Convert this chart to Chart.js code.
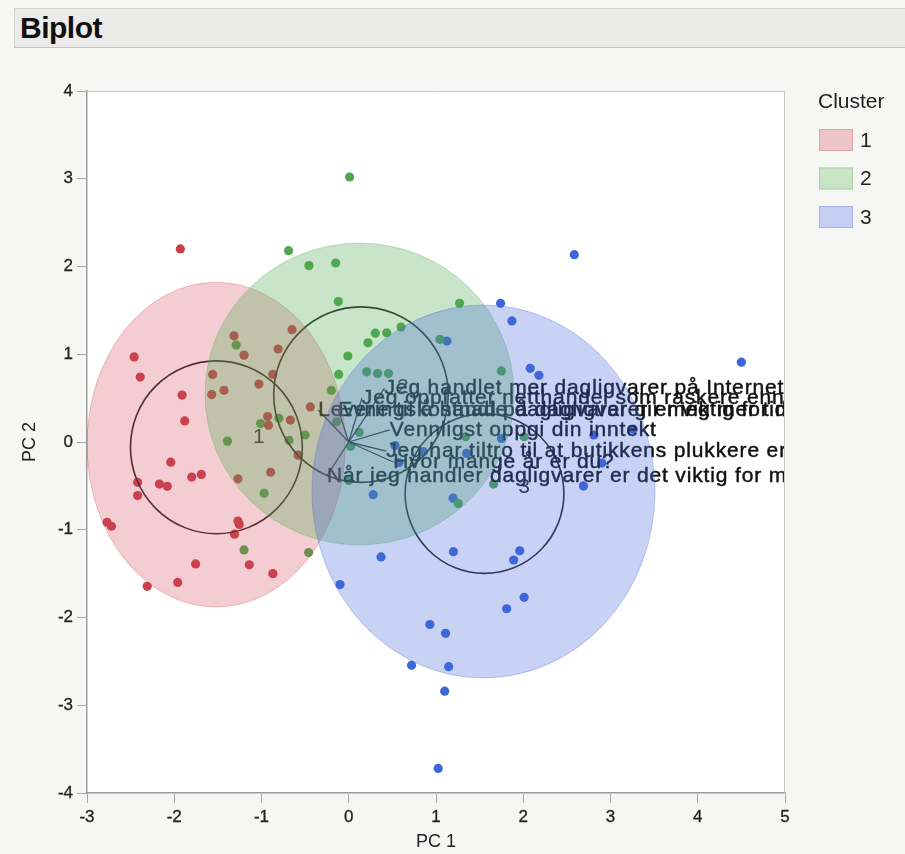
<!DOCTYPE html>
<html>
<head>
<meta charset="utf-8">
<script src="https://cdn.jsdelivr.net/npm/chart.js@4.4.1/dist/chart.umd.min.js"></script>
<style>
  html, body { margin: 0; padding: 0; background: #f6f6f4; }
  #wrap { position: relative; width: 905px; height: 854px; overflow: hidden; }
  #myChart { position: absolute; left: 0; top: 0; }
  #bar {
    position: absolute; left: 14px; top: 8px; width: 891px; height: 40px;
    box-sizing: border-box; padding-left: 5px;
    background: #ebebe9; border-top: 1px solid #d2d2d2; border-left: 1px solid #d2d2d2; border-bottom: 1px solid #c6c6c6;
    font: bold 30px "Liberation Sans", Arial, sans-serif; line-height: 38px; color: #111;
    letter-spacing: -0.5px;
  }
</style>
</head>
<body>
<div id="wrap">
  <canvas id="myChart" width="905" height="854"></canvas>
  <div id="bar">Biplot</div>
</div>
<script>
// ---- data ----
const clusterNames = ['1', '2', '3'];

const cluster1 = [
  [-1.93, 2.20], [-2.46, 0.97], [-2.39, 0.74], [-1.91, 0.535], [-1.88, 0.24],
  [-2.04, -0.23], [-2.42, -0.46], [-2.17, -0.48], [-2.08, -0.505], [-1.80, -0.40],
  [-1.69, -0.37], [-2.42, -0.61], [-2.77, -0.915], [-2.72, -0.96], [-1.27, -0.90],
  [-1.255, -0.94], [-1.31, -1.05], [-1.755, -1.39], [-1.14, -1.40], [-0.87, -1.50],
  [-2.31, -1.645], [-1.96, -1.60], [-1.315, 1.21], [-1.20, 0.99], [-0.81, 1.06],
  [-0.65, 1.28], [-1.56, 0.77], [-1.57, 0.54], [-1.43, 0.59], [-1.03, 0.66],
  [-0.87, 0.77], [-0.44, 0.40], [-0.93, 0.29], [-0.92, 0.19], [-0.67, 0.25],
  [-0.58, -0.15], [-1.27, -0.42], [-0.895, -0.345]
];

const cluster2 = [
  [0.01, 3.02], [-0.69, 2.18], [-0.456, 2.01], [-0.15, 2.04], [-0.12, 1.60],
  [1.27, 1.58], [0.60, 1.31], [0.435, 1.245], [0.305, 1.24], [0.22, 1.13],
  [-0.01, 0.98], [-0.115, 0.77], [-0.20, 0.59], [0.205, 0.80], [0.33, 0.78],
  [0.455, 0.78], [1.045, 1.17], [1.75, 0.81], [-1.29, 1.105], [-1.01, 0.21],
  [-0.80, 0.27], [-1.39, 0.01], [-0.685, 0.02], [-0.50, 0.08], [-0.97, -0.585],
  [-1.20, -1.23], [-0.46, -1.26], [-0.14, 0.23], [0.12, 0.11], [0.02, -0.05],
  [1.255, -0.70], [1.66, -0.48], [0.0, -0.44], [1.34, 0.06], [2.01, 0.06]
];

const cluster3 = [
  [2.585, 2.135], [1.74, 1.58], [1.87, 1.38], [1.125, 1.15], [2.08, 0.84],
  [2.18, 0.76], [4.50, 0.91], [2.81, 0.08], [3.26, 0.145], [1.75, 0.04],
  [2.90, -0.24], [2.69, -0.50], [0.28, -0.60], [1.195, -0.64], [0.37, -1.31],
  [-0.10, -1.625], [1.20, -1.25], [1.96, -1.24], [1.89, -1.345], [2.01, -1.77],
  [1.81, -1.90], [0.93, -2.08], [1.11, -2.18], [0.72, -2.545], [1.145, -2.56],
  [1.10, -2.84], [1.025, -3.72], [1.35, -0.13], [0.53, -0.04], [0.575, -0.235],
  [0.855, -0.11]
];

// cluster circles (centre, radius in axis units)
const circleCx = [-1.517, 0.14, 1.556];
const circleCy = [-0.06, 0.54, -0.587];
const circleR  = [0.985, 1.0, 0.91];
// cluster number labels
const numX = [-1.03, 0.62, 2.01];
const numY = [0.05, 0.63, -0.51];
// shaded density ellipses
const ellCx = [-1.52, 0.123, 1.544];
const ellCy = [-0.03, 0.547, -0.564];
const ellRx = [1.48, 1.77, 1.966];
const ellRy = [1.85, 1.72, 2.125];

// biplot rays (end points) and their labels
const rayLabels = [
  'Jeg handlet mer dagligvarer på Internett etter koronapandemien',
  'Jeg oppfatter netthandel som raskere enn å handle i butikk',
  'Leveringskostnad på dagligvarer er viktig for meg',
  'Evne til å handle dagligvarer gir meg mer tid',
  'Vennligst oppgi din inntekt',
  'Jeg har tiltro til at butikkens plukkere er nøye',
  'Hvor mange år er du?',
  'Når jeg handler dagligvarer er det viktig for meg'
];
const rayX = [0.41, 0.15, -0.35, -0.12, 0.47, 0.43, 0.51, -0.25];
const rayY = [0.615, 0.50, 0.365, 0.365, 0.137, -0.103, -0.228, -0.387];

const xTicks = [-3, -2, -1, 0, 1, 2, 3, 4, 5];
const yTicks = [-4, -3, -2, -1, 0, 1, 2, 3, 4];

// ---- styles ----
const pointColors = ['#c9404a', '#4fa84f', '#3d66d9'];
const ellFill = ['rgba(210,70,85,0.27)', 'rgba(76,170,76,0.30)', 'rgba(70,105,220,0.30)'];
const ellLine = ['rgba(204,61,71,0.3)', 'rgba(76,170,76,0.3)', 'rgba(65,100,225,0.3)'];
const swatchFill = ['#eec4c8', '#c9e4c5', '#c4cef2'];
const swatchLine = ['#dba2a7', '#a9d3a3', '#a3b3ea'];
const FONT = '"Liberation Sans", Helvetica, Arial, sans-serif';

const biplotLayer = {
  id: 'biplotLayer',
  beforeDraw(chart) {
    const { ctx, chartArea: a } = chart;
    ctx.save();
    ctx.fillStyle = '#ffffff';
    ctx.fillRect(a.left, a.top, a.right - a.left, a.bottom - a.top);
    ctx.restore();
  },
  afterDatasetsDraw(chart) {
    const { ctx, chartArea: a, scales: { x, y } } = chart;
    ctx.save();
    ctx.beginPath();
    ctx.rect(a.left, a.top, a.right - a.left, a.bottom - a.top);
    ctx.clip();

    // rays
    const ox = x.getPixelForValue(0), oy = y.getPixelForValue(0);
    ctx.strokeStyle = '#2b2b2b';
    ctx.lineWidth = 1.3;
    rayX.forEach((vx, i) => {
      ctx.beginPath();
      ctx.moveTo(ox, oy);
      ctx.lineTo(x.getPixelForValue(vx), y.getPixelForValue(rayY[i]));
      ctx.stroke();
    });

    // circles
    ctx.strokeStyle = '#262626';
    ctx.lineWidth = 1.6;
    circleCx.forEach((cx, i) => {
      const px = x.getPixelForValue(cx), py = y.getPixelForValue(circleCy[i]);
      const rx = x.getPixelForValue(cx + circleR[i]) - px;
      const ry = py - y.getPixelForValue(circleCy[i] + circleR[i]);
      ctx.beginPath();
      ctx.ellipse(px, py, rx, ry, 0, 0, Math.PI * 2);
      ctx.stroke();
    });

    // ray labels
    ctx.fillStyle = '#111';
    ctx.strokeStyle = '#111';
    ctx.lineWidth = 0.45;
    ctx.textAlign = 'left';
    ctx.textBaseline = 'middle';
    ctx.font = '21px ' + FONT;
    ctx.letterSpacing = '0.85px';
    rayLabels.forEach((t, i) => {
      const tx = x.getPixelForValue(rayX[i]), ty = y.getPixelForValue(rayY[i]);
      ctx.fillText(t, tx, ty);
      ctx.strokeText(t, tx, ty);
    });

    // cluster numbers
    ctx.letterSpacing = '0px';
    ctx.fillStyle = '#2a2a2a';
    ctx.textAlign = 'center';
    ctx.font = '21px ' + FONT;
    clusterNames.forEach((n, i) => {
      ctx.fillText(n, x.getPixelForValue(numX[i]), y.getPixelForValue(numY[i]));
    });

    // shaded ellipses, drawn on top
    ctx.lineWidth = 1;
    ellCx.forEach((cx, i) => {
      const px = x.getPixelForValue(cx), py = y.getPixelForValue(ellCy[i]);
      const rx = x.getPixelForValue(cx + ellRx[i]) - px;
      const ry = py - y.getPixelForValue(ellCy[i] + ellRy[i]);
      ctx.beginPath();
      ctx.ellipse(px, py, rx, ry, 0, 0, Math.PI * 2);
      ctx.fillStyle = ellFill[i];
      ctx.fill();
      ctx.strokeStyle = ellLine[i];
      ctx.stroke();
    });
    ctx.restore();

    // light frame top/right
    ctx.save();
    ctx.strokeStyle = '#c6c6c6';
    ctx.lineWidth = 1;
    ctx.beginPath();
    ctx.moveTo(a.left, a.top + 0.5);
    ctx.lineTo(a.right - 0.5, a.top + 0.5);
    ctx.lineTo(a.right - 0.5, a.bottom);
    ctx.stroke();
    ctx.restore();
  },
  afterDraw(chart) {
    const ctx = chart.ctx;
    ctx.save();
    ctx.font = '21px ' + FONT;
    ctx.fillStyle = '#222';
    ctx.textAlign = 'left';
    ctx.textBaseline = 'middle';
    ctx.fillText('Cluster', 818, 102);
    clusterNames.forEach((n, i) => {
      const top = 129 + i * 38.5;
      ctx.fillStyle = swatchFill[i];
      ctx.fillRect(819, top, 34, 22);
      ctx.strokeStyle = swatchLine[i];
      ctx.lineWidth = 1;
      ctx.strokeRect(819.5, top + 0.5, 33, 21);
      ctx.fillStyle = '#222';
      ctx.fillText(n, 860, top + 12);
    });
    ctx.restore();
  }
};

const toPts = arr => arr.map(p => ({ x: p[0], y: p[1] }));

const chartElement = document.getElementById('myChart');
const myChart = new Chart(chartElement, {
  type: 'scatter',
  data: {
    datasets: [cluster1, cluster2, cluster3].map((d, i) => ({
      label: clusterNames[i],
      data: toPts(d),
      backgroundColor: pointColors[i],
      borderWidth: 0,
      pointRadius: 4.6,
      pointHoverRadius: 4.6
    }))
  },
  options: {
    responsive: false,
    animation: false,
    devicePixelRatio: 1,
    layout: { padding: { top: 91, right: 120, left: 0, bottom: 0 } },
    scales: {
      x: {
        type: 'linear',
        min: -3, max: 5,
        afterFit: s => { s.height = 61; },
        afterBuildTicks: s => { s.ticks = xTicks.map(v => ({ value: v })); },
        grid: { drawOnChartArea: false, drawTicks: true, tickLength: 10, tickColor: '#a9a9a9' },
        border: { display: true, color: '#9c9c9c', width: 1.5 },
        ticks: { color: '#222', font: { size: 17, family: FONT }, padding: 4, textStrokeColor: '#222', textStrokeWidth: 0.3, callback: v => String(v) },
        title: { display: true, text: 'PC 1', color: '#222', font: { size: 18, family: FONT }, padding: { top: 0, bottom: 1 } }
      },
      y: {
        type: 'linear',
        min: -4, max: 4,
        afterFit: s => { s.width = 87; },
        afterBuildTicks: s => { s.ticks = yTicks.map(v => ({ value: v })); },
        grid: { drawOnChartArea: false, drawTicks: true, tickLength: 10, tickColor: '#a9a9a9' },
        border: { display: true, color: '#9c9c9c', width: 1.5 },
        ticks: { color: '#222', font: { size: 17, family: FONT }, padding: 4, textStrokeColor: '#222', textStrokeWidth: 0.3, callback: v => String(v) },
        title: { display: true, text: 'PC 2', color: '#222', font: { size: 18, family: FONT }, padding: { top: 19, bottom: 0 } }
      }
    },
    plugins: {
      legend: { display: false },
      tooltip: { enabled: false }
    }
  },
  plugins: [biplotLayer]
});
</script>
</body>
</html>
